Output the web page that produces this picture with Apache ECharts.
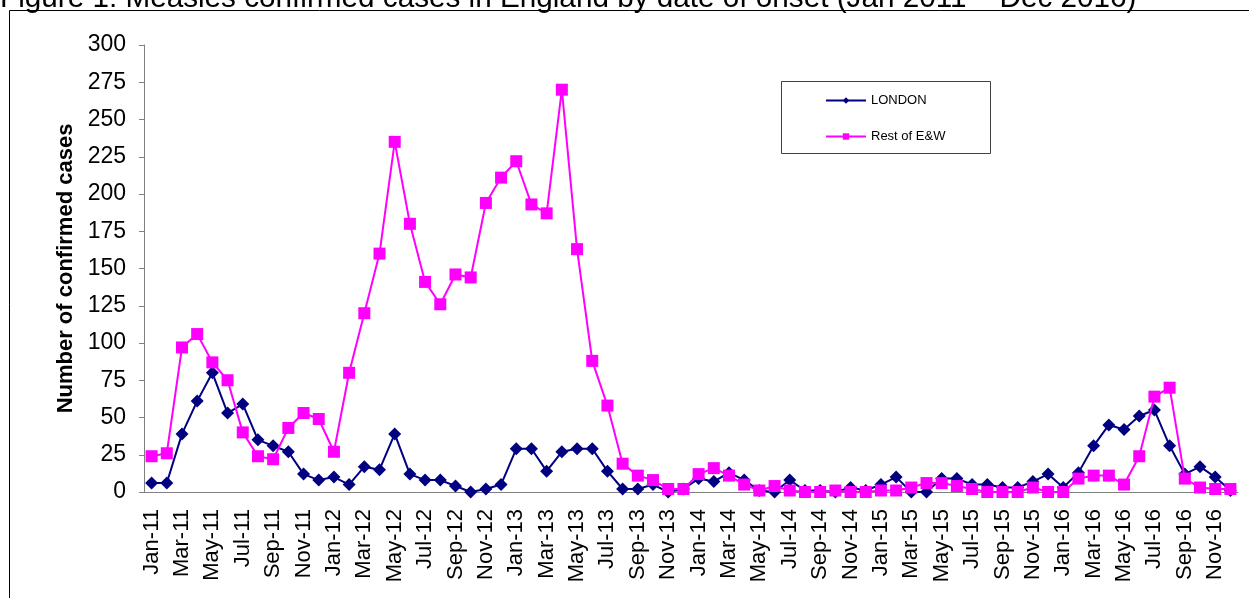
<!DOCTYPE html>
<html>
<head>
<meta charset="utf-8">
<script src="https://cdn.jsdelivr.net/npm/echarts@6/dist/echarts.min.js"></script>
<style>
  html, body { margin: 0; padding: 0; background: #fff; }
  #chart { width: 1249px; height: 598px; }
</style>
</head>
<body>
<div id="chart"></div>
<script>
// months Jan-11 .. Dec-16
var monthNames = ['Jan', 'Feb', 'Mar', 'Apr', 'May', 'Jun', 'Jul', 'Aug', 'Sep', 'Oct', 'Nov', 'Dec'];
var years = ['11', '12', '13', '14', '15', '16'];
var categories = [];
for (var y = 0; y < years.length; y++) {
    for (var m = 0; m < monthNames.length; m++) {
        categories.push(monthNames[m] + '-' + years[y]);
    }
}

var london = [
    6, 6, 39, 61, 80, 53, 59, 35, 31, 27, 12, 8,
    10, 5, 17, 15, 39, 12, 8, 8, 4, 0, 2, 5,
    29, 29, 14, 27, 29, 29, 14, 2, 2, 5, 0, 2,
    9, 7, 13, 8, 1, 0, 8, 1, 1, 0, 3, 1,
    5, 10, 0, 0, 9, 9, 5, 5, 3, 3, 7, 12,
    3, 13, 31, 45, 42, 51, 55, 31, 12, 17, 10, 1
];

var restOfEW = [
    24, 26, 97, 106, 87, 75, 40, 24, 22, 43, 53, 49,
    27, 80, 120, 160, 235, 180, 141, 126, 146, 144, 194, 211,
    222, 193, 187, 270, 163, 88, 58, 19, 11, 8, 2, 2,
    12, 16, 11, 5, 1, 4, 1, 0, 0, 1, 0, 0,
    1, 1, 3, 6, 6, 4, 2, 0, 0, 0, 3, 0,
    0, 9, 11, 11, 5, 24, 64, 70, 9, 3, 2, 2
];

var seriesNames = ['LONDON', 'Rest of E&W'];

var chart = echarts.init(document.getElementById('chart'));
var font = '"Liberation Sans", Arial, sans-serif';
var axisGrey = '#808080';

var option = {
    animation: false,
    textStyle: { fontFamily: font },
    graphic: [{
        type: 'text',
        left: 0,
        top: -16,
        style: {
            text: 'Figure 1: Measles confirmed cases in England by date of onset (Jan 2011 \u2013 Dec 2016)',
            font: '29.7px ' + font,
            fill: '#000'
        }
    }, {
        type: 'rect',
        shape: { x: 9.5, y: 10.5, width: 1400, height: 800 },
        style: { fill: 'none', stroke: '#000', lineWidth: 1 },
        silent: true
    }, {
        type: 'rect',
        shape: { x: 781.5, y: 81.5, width: 209, height: 72 },
        style: { fill: '#fff', stroke: '#404040', lineWidth: 1 },
        z: 5,
        silent: true
    }],
    legend: {
        data: seriesNames,
        orient: 'vertical',
        left: 820,
        top: 89,
        itemWidth: 40,
        itemHeight: 8,
        itemGap: 23,
        z: 10,
        textStyle: { fontSize: 13, color: '#000', fontFamily: font }
    },
    grid: {
        left: 144,
        right: 11,
        top: 45,
        bottom: 106
    },
    xAxis: {
        type: 'category',
        data: categories,
        boundaryGap: true,
        axisLine: { lineStyle: { color: axisGrey, width: 1 } },
        axisTick: { interval: 1, length: 6, lineStyle: { color: axisGrey } },
        axisLabel: {
            interval: 1,
            rotate: 90,
            margin: 17,
            fontSize: 22,
            color: '#000'
        },
        splitLine: { show: false }
    },
    yAxis: {
        type: 'value',
        min: 0,
        max: 300,
        interval: 25,
        name: 'Number of confirmed cases',
        nameLocation: 'middle',
        nameGap: 61,
        nameTextStyle: { fontSize: 22, fontWeight: 'bold', color: '#000' },
        axisLine: { show: true, lineStyle: { color: axisGrey, width: 1 } },
        axisTick: { show: true, length: 5, lineStyle: { color: axisGrey } },
        axisLabel: { fontSize: 23, margin: 18, color: '#000' },
        splitLine: { show: false }
    },
    series: [{
        name: seriesNames[0],
        type: 'line',
        data: london,
        symbol: 'diamond',
        symbolSize: 13,
        showAllSymbol: true,
        lineStyle: { color: '#000080', width: 2 },
        itemStyle: { color: '#000080' },
        z: 2
    }, {
        name: seriesNames[1],
        type: 'line',
        data: restOfEW,
        symbol: 'rect',
        symbolSize: 12,
        showAllSymbol: true,
        lineStyle: { color: '#FF00FF', width: 2 },
        itemStyle: { color: '#FF00FF' },
        z: 3
    }]
};

chart.setOption(option);
</script>
</body>
</html>
